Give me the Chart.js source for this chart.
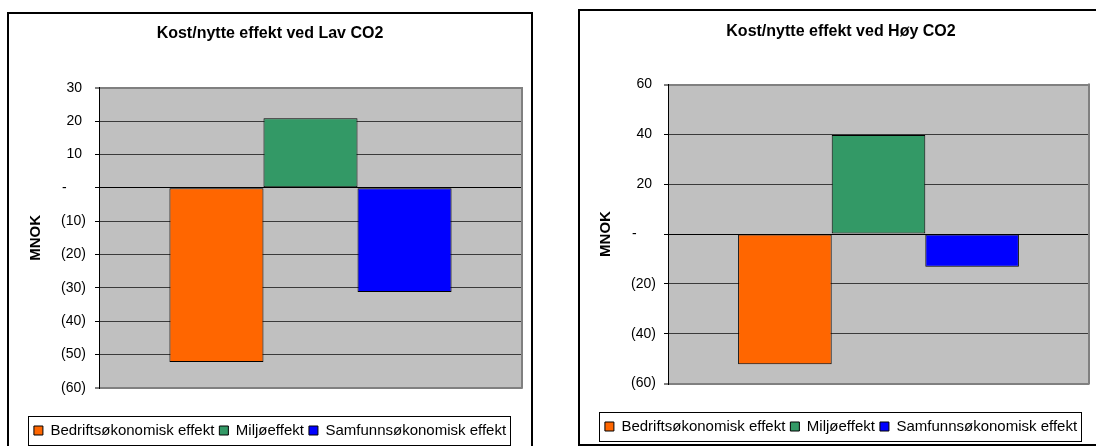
<!DOCTYPE html>
<html><head><meta charset="utf-8">
<script src="https://cdn.jsdelivr.net/npm/chart.js@4.4.0/dist/chart.umd.min.js"></script>
<style>
html,body{margin:0;padding:0;background:#fff;overflow:hidden;width:1096px;height:446px;}
.frame{position:absolute;box-sizing:border-box;border:2px solid #000;}
canvas{position:absolute;}
</style></head><body>
<div class="frame" style="left:7px;top:12px;width:526px;height:440px"></div>
<div class="frame" style="left:578px;top:9px;width:540px;height:437px"></div>
<canvas id="c1" width="526" height="448" style="left:7px;top:0"></canvas>
<canvas id="c2" width="526" height="444" style="left:578px;top:0"></canvas>
<script>
const categories = [''];
const seriesNames = ['Bedriftsøkonomisk effekt', 'Miljøeffekt', 'Samfunnsøkonomisk effekt'];
const lavValues = [-52.3, 20.9, -31.3];
const hoyValues = [-52.3, 39.7, -13.1];
const lavAxis = [-60, 30, 10];   // min, max, step
const hoyAxis = [-60, 60, 20];
const titles = ['Kost/nytte effekt ved Lav CO2', 'Kost/nytte effekt ved Høy CO2'];
const axisTitle = 'MNOK';

const colors = ['#FF6600', '#339966', '#0000FF'];
const FAMILY = '"Liberation Sans", Arial, sans-serif';
Chart.defaults.font.family = FAMILY;
Chart.defaults.color = '#000';

function fmt(v) {
  if (v === 0) return '-     ';
  if (v < 0) return '(' + (-v) + ')';
  return v + ' ';
}

const plotFrame = {
  id: 'plotFrame',
  beforeDraw(chart) {
    const {ctx, chartArea: a} = chart;
    ctx.save();
    ctx.fillStyle = '#C0C0C0';
    ctx.fillRect(a.left, a.top, a.right - a.left, a.bottom - a.top);
    ctx.restore();
  },
  beforeDatasetsDraw(chart) {
    const {ctx, chartArea: a} = chart;
    ctx.save();
    ctx.strokeStyle = '#808080';
    ctx.lineWidth = 2;
    ctx.beginPath();
    ctx.moveTo(a.right, a.top - 1);
    ctx.lineTo(a.right, a.bottom + 1);
    ctx.stroke();
    ctx.restore();
  },
  afterDraw(chart) {
    const hb = chart.legend && chart.legend.legendHitBoxes;
    if (!hb || !hb.length) return;
    const {ctx} = chart;
    const first = hb[0], last = hb[hb.length - 1];
    const cy = first.top + first.height / 2;
    const x0 = Math.round(first.left - 6) + 0.5;
    const x1 = Math.round(last.left + last.width + 4) + 0.5;
    const y0 = Math.round(cy - 14.5) + 0.5;
    ctx.save();
    ctx.strokeStyle = '#000';
    ctx.lineWidth = 1;
    ctx.strokeRect(x0, y0, x1 - x0, 29);
    ctx.restore();
  }
};

function make(id, title, values, axis, g) {
  const [yMin, yMax, step] = axis;
  return new Chart(document.getElementById(id), {
    type: 'bar',
    data: {
      labels: categories,
      datasets: seriesNames.map((n, i) => ({
        label: n,
        data: [values[i]],
        backgroundColor: colors[i],
        borderColor: '#000',
        borderWidth: 1,
        borderSkipped: false,
        categoryPercentage: 0.667,
        barPercentage: 1
      }))
    },
    options: {
      responsive: false,
      animation: false,
      layout: {padding: {left: g.pad, right: g.pad, top: 0, bottom: 0}},
      plugins: {
        title: {
          display: true, text: title,
          font: {size: 16, weight: 'bold', family: FAMILY},
          color: '#000',
          padding: {top: g.titleTop, bottom: g.titleBottom}
        },
        legend: {
          display: true, position: 'bottom',
          labels: {
            font: {size: 15, family: FAMILY}, color: '#000',
            boxWidth: 9, boxHeight: 9, padding: 5
          }
        },
        tooltip: {enabled: false}
      },
      scales: {
        x: {
          display: true,
          grid: {display: false},
          border: {display: false},
          ticks: {display: false},
          afterFit(s) { s.height = g.xh; }
        },
        y: {
          min: yMin, max: yMax,
          ticks: {stepSize: step, callback: v => fmt(v), font: {size: 14, family: FAMILY}, color: '#000', padding: g.tickPad},
          grid: {
            color: c => c.tick.value === 0 ? '#000' : ((c.tick.value === yMax || c.tick.value === yMin) ? '#808080' : '#3a3a3a'),
            lineWidth: c => (c.tick.value === yMax || c.tick.value === yMin) ? 2 : 1,
            tickColor: '#000', tickLength: 4, tickWidth: 1, drawTicks: true
          },
          border: {display: true, color: '#000', width: 1},
          title: {display: true, text: axisTitle, font: {size: 15, weight: 'bold', family: FAMILY}, color: '#000', padding: {top: g.mnokPad, bottom: 0}},
          afterFit(s) { s.width = g.yw; }
        }
      }
    },
    plugins: [plotFrame]
  });
}

make('c1', titles[0], lavValues, lavAxis, {pad: 11, yw: 81, titleTop: 24, titleBottom: 44.7, xh: 30.3, tickPad: 9, mnokPad: 9});
make('c2', titles[1], hoyValues, hoyAxis, {pad: 15, yw: 75, titleTop: 22, titleBottom: 43.3, xh: 30.5, tickPad: 8, mnokPad: 4});
</script>
</body></html>
